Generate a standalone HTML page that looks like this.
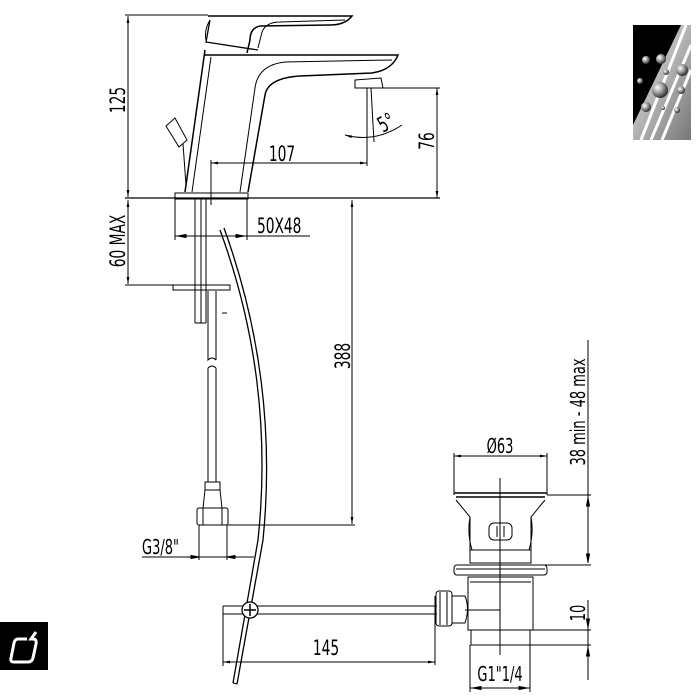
<!DOCTYPE html>
<html><head><style>body{margin:0;background:#fff}svg{display:block}text{font-family:"DejaVu Sans Condensed","Liberation Sans",sans-serif;fill:#000}</style></head>
<body>
<svg width="700" height="700" viewBox="0 0 700 700" xmlns="http://www.w3.org/2000/svg">
<defs>
<marker id="a" viewBox="0 0 10 4" refX="10" refY="2" markerWidth="7" markerHeight="3" orient="auto-start-reverse"><path d="M0,0L10,2L0,4z" fill="#000"/></marker>
<linearGradient id="g" x1="0" y1="0" x2="1" y2="1"><stop offset="0" stop-color="#eee"/><stop offset="1" stop-color="#777"/></linearGradient>
<radialGradient id="b" cx="0.35" cy="0.35" r="0.7"><stop offset="0" stop-color="#fff"/><stop offset="0.5" stop-color="#999"/><stop offset="1" stop-color="#222"/></radialGradient>
</defs>
<g fill="none" stroke="#000" stroke-width="1">
<line x1="125" y1="15" x2="208" y2="15"/>
<line x1="128" y1="16" x2="128" y2="197" marker-start="url(#a)" marker-end="url(#a)"/>
<line x1="125" y1="198" x2="440" y2="198" stroke-width="1.3"/>
<path d="M208,16 L352,16 Q345,25 330,25 L260,26 Q250,28 250,40 L247,53" stroke-width="1.5"/>
<path d="M258,48 L262,32 Q266,22 280,22 L345,20"/>
<path d="M210,20 L206,42 L258,50" stroke-width="1.3"/>
<path d="M210,20 Q204,30 206,40"/>
<path d="M205,55 L398,55 Q392,70 372,73 L300,76 Q268,78 265,95 L248,192" stroke-width="1.5"/>
<path d="M205,50 L185,192" stroke-width="1.5"/>
<path d="M211,57 L192,192"/>
<path d="M240,192 L255,88 Q258,65 285,62 L392,60"/>
<path d="M355,80 L381,78 L383,88 L355,88 Z"/>
<line x1="383" y1="88" x2="440" y2="88"/>
<path d="M166,126 L175,118 L187,140 L179,147 Z"/>
<path d="M183,144 L186,185"/>
<rect x="175" y="193" width="73" height="6"/>
<line x1="211" y1="160" x2="211" y2="205"/>
<line x1="211" y1="163" x2="367" y2="163" marker-start="url(#a)" marker-end="url(#a)"/>
<line x1="367" y1="88" x2="367" y2="166"/>
<line x1="371" y1="88" x2="374" y2="142"/>
<path d="M345,135 Q375,143 402,125" marker-start="url(#a)"/>
<line x1="437" y1="88" x2="437" y2="198" marker-start="url(#a)" marker-end="url(#a)"/>
<line x1="175" y1="198" x2="175" y2="240"/><line x1="247" y1="198" x2="247" y2="240"/>
<line x1="175" y1="236" x2="310" y2="236"/>
<path d="M178,236 l8,-1.5 v3z M244,236 l-8,-1.5 v3z" fill="#000"/>
<line x1="128" y1="200" x2="128" y2="284" marker-start="url(#a)" marker-end="url(#a)"/>
<line x1="125" y1="285" x2="230" y2="285"/>
<rect x="173" y="285" width="57" height="5"/>
<line x1="195" y1="199" x2="195" y2="323"/><line x1="201" y1="199" x2="201" y2="323"/><line x1="206" y1="199" x2="206" y2="323"/>
<line x1="195" y1="323" x2="206" y2="323"/>
<path d="M208,291 L208,360 Q212,356 216,360 M208,368 Q212,364 216,368 M216,291 L216,360 M208,368 L208,482 M216,368 L216,482"/>
<line x1="222" y1="313" x2="227" y2="313"/>
<rect x="205" y="482" width="15" height="8"/>
<path d="M205,490 L203,508 M220,490 L222,508"/>
<rect x="197" y="508" width="31" height="17" rx="2"/>
<line x1="203" y1="508" x2="203" y2="525"/><line x1="222" y1="508" x2="222" y2="525"/>
<line x1="352" y1="200" x2="352" y2="524" marker-start="url(#a)" marker-end="url(#a)"/>
<line x1="228" y1="525" x2="355" y2="525"/>
<line x1="199" y1="525" x2="199" y2="560"/><line x1="227" y1="525" x2="227" y2="560"/>
<line x1="142" y1="557" x2="254" y2="557"/>
<path d="M199,557 l-8,-1.5 v3z M227,557 l8,-1.5 v3z" fill="#000"/>
<path d="M220,230 Q275,380 258,540 L233,683" stroke-width="1.3"/>
<path d="M224,228 Q279,380 263,540 L237,684" stroke-width="1.3"/>
<line x1="233" y1="683" x2="237" y2="684"/>
<line x1="223" y1="606" x2="437" y2="606"/>
<line x1="223" y1="614" x2="437" y2="614"/>
<line x1="223" y1="606" x2="223" y2="666"/>
<circle cx="250" cy="610" r="8" fill="#fff" stroke-width="1.3"/>
<path d="M250,604 V616 M244,610 H256" stroke-width="1.5"/>
<line x1="223" y1="662" x2="435" y2="662" marker-start="url(#a)" marker-end="url(#a)"/>
<line x1="435" y1="596" x2="435" y2="665"/>
<line x1="454" y1="456" x2="547" y2="456" marker-start="url(#a)" marker-end="url(#a)"/>
<line x1="454" y1="453" x2="454" y2="495"/><line x1="547" y1="453" x2="547" y2="495"/>
<path d="M454,493 H547 M456,497 H545" stroke-width="1.5"/>
<path d="M456,500 L470,517 L470,550 M545,500 L531,517 L531,550"/>
<path d="M470,517 Q467,533 472,550 M531,517 Q534,533 529,550"/>
<rect x="489" y="523" width="23" height="17" rx="5"/>
<line x1="497" y1="526" x2="497" y2="537"/><line x1="504" y1="526" x2="504" y2="537"/>
<rect x="470" y="550" width="61" height="13"/>
<rect x="454" y="565" width="93" height="10" rx="3"/>
<line x1="456" y1="569" x2="545" y2="569"/>
<path d="M468,577 H533 V630 H468 Z"/>
<line x1="470" y1="582" x2="531" y2="582"/>
<rect x="436" y="591" width="16" height="35" rx="3"/>
<line x1="440" y1="592" x2="440" y2="625"/><line x1="447" y1="592" x2="447" y2="625"/>
<path d="M452,596 H465 Q470,608 465,623 H452"/>
<line x1="465" y1="610" x2="500" y2="610"/>
<rect x="471" y="630" width="59" height="15"/>
<line x1="500" y1="478" x2="500" y2="655"/>
<line x1="470" y1="645" x2="470" y2="692"/><line x1="530" y1="645" x2="530" y2="692"/>
<line x1="470" y1="688" x2="530" y2="688"/>
<path d="M473,688 l8,-1.5 v3z M527,688 l-8,-1.5 v3z" fill="#000"/>
<line x1="588" y1="340" x2="588" y2="563"/>
<line x1="547" y1="495" x2="591" y2="495"/>
<line x1="533" y1="565" x2="591" y2="565"/>
<path d="M588,498 l-1.5,8 h3z M588,562 l-1.5,-8 h3z" fill="#000"/>
<line x1="588" y1="600" x2="588" y2="680"/>
<line x1="533" y1="630" x2="591" y2="630"/><line x1="530" y1="645" x2="591" y2="645"/>
<path d="M588,627 l-1.5,-8 h3z M588,648 l-1.5,8 h3z" fill="#000"/>
</g>
<text transform="translate(125,100) rotate(-90) scale(0.85,1.2)" text-anchor="middle" font-size="18">125</text>
<text transform="translate(125,241) rotate(-90) scale(0.85,1.2)" text-anchor="middle" font-size="18">60 MAX</text>
<text transform="translate(282,161) scale(0.85,1.2)" text-anchor="middle" font-size="18">107</text>
<text transform="translate(383,133) rotate(-30) scale(0.85,1.2)" font-size="18">5°</text>
<text transform="translate(434,141) rotate(-90) scale(0.85,1.2)" text-anchor="middle" font-size="18">76</text>
<text transform="translate(257,233) scale(0.85,1.2)" font-size="18">50X48</text>
<text transform="translate(350,356) rotate(-90) scale(0.85,1.2)" text-anchor="middle" font-size="18">388</text>
<text transform="translate(142,554) scale(0.85,1.2)" font-size="17">G3/8"</text>
<text transform="translate(326,655) scale(0.85,1.2)" text-anchor="middle" font-size="18">145</text>
<text transform="translate(500,453) scale(0.85,1.2)" text-anchor="middle" font-size="17">Ø63</text>
<text transform="translate(585,412) rotate(-90) scale(0.85,1.2)" text-anchor="middle" font-size="17">38 min - 48 max</text>
<text transform="translate(585,613) rotate(-90) scale(0.85,1.2)" text-anchor="middle" font-size="17">10</text>
<text transform="translate(500,681) scale(0.85,1.2)" text-anchor="middle" font-size="17">G1"1/4</text>
<rect x="633" y="25" width="58" height="115" fill="url(#g)"/>
<path d="M633,25 H681 L633,125 Z" fill="#000"/>
<path d="M686,25 L641,140 M691,45 L651,140 M691,70 L662,140" stroke="#fff" stroke-width="3"/>
<g fill="url(#b)"><circle cx="661" cy="59" r="5"/><circle cx="666" cy="72" r="3"/><circle cx="646" cy="60" r="4"/><circle cx="682" cy="70" r="6"/><circle cx="640" cy="81" r="3"/><circle cx="660" cy="90" r="8"/><circle cx="681" cy="90" r="4"/><circle cx="646" cy="107" r="5"/><circle cx="663" cy="108" r="2"/><circle cx="677" cy="110" r="3"/></g>
<rect x="0" y="622" width="48" height="48" fill="#000"/>
<path d="M27,639 H18 Q15,639 14,643 L11,658 Q10,662 14,662 H28 Q32,662 33,658 L36,644 Q37,639 33,639 H31 L36,632" fill="none" stroke="#fff" stroke-width="3"/>
</svg>
</body></html>
